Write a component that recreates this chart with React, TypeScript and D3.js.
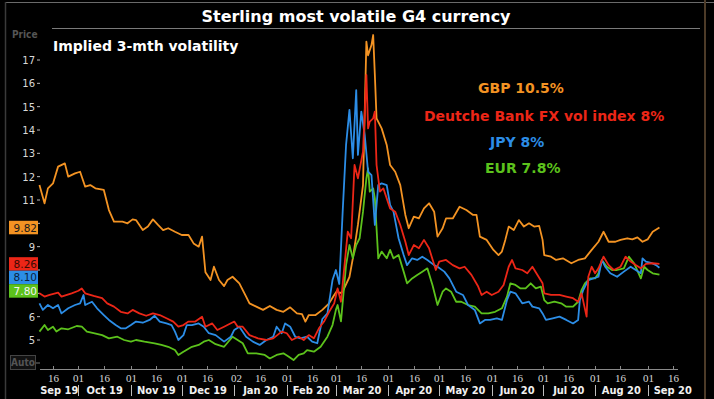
import React, { useEffect, useRef } from 'react';
import * as d3 from 'd3';

// Implied 3-month volatility
const gbp: [string, number][] = [
  ["2019-09-08", 11.64], ["2019-09-11", 10.86], ["2019-09-13", 11.5], ["2019-09-16", 11.71], ["2019-09-19", 12.43],
  ["2019-09-23", 12.57], ["2019-09-25", 12.0], ["2019-09-29", 12.14], ["2019-10-02", 12.21], ["2019-10-05", 11.57],
  ["2019-10-08", 11.64], ["2019-10-11", 11.5], ["2019-10-16", 11.43], ["2019-10-19", 10.57], ["2019-10-22", 10.07],
  ["2019-10-27", 10.07], ["2019-10-30", 10.0], ["2019-11-02", 10.17], ["2019-11-04", 10.14], ["2019-11-08", 9.71],
  ["2019-11-11", 9.86], ["2019-11-14", 10.17], ["2019-11-17", 9.93], ["2019-11-20", 9.71], ["2019-11-23", 9.79],
  ["2019-11-27", 9.64], ["2019-12-01", 9.5], ["2019-12-05", 9.5], ["2019-12-08", 9.14], ["2019-12-11", 9.0],
  ["2019-12-13", 9.43], ["2019-12-15", 7.9], ["2019-12-18", 7.57], ["2019-12-20", 8.14], ["2019-12-23", 7.57],
  ["2019-12-26", 7.31], ["2019-12-28", 7.57], ["2019-12-31", 7.71], ["2020-01-04", 7.43], ["2020-01-08", 6.86],
  ["2020-01-10", 6.57], ["2020-01-14", 6.43], ["2020-01-18", 6.29], ["2020-01-22", 6.46], ["2020-01-26", 6.29],
  ["2020-01-30", 6.21], ["2020-02-03", 6.4], ["2020-02-07", 6.14], ["2020-02-10", 6.11], ["2020-02-12", 5.79],
  ["2020-02-14", 6.07], ["2020-02-18", 6.07], ["2020-02-22", 6.29], ["2020-02-26", 6.57], ["2020-02-29", 6.93],
  ["2020-03-02", 7.14], ["2020-03-03", 7.0], ["2020-03-05", 7.07], ["2020-03-09", 7.7], ["2020-03-11", 8.5],
  ["2020-03-14", 9.93], ["2020-03-17", 11.64], ["2020-03-19", 17.79], ["2020-03-20", 17.2], ["2020-03-22", 17.64],
  ["2020-03-23", 18.07], ["2020-03-24", 16.36], ["2020-03-25", 14.5], ["2020-03-28", 14.07], ["2020-03-31", 13.36],
  ["2020-04-02", 12.5], ["2020-04-05", 12.21], ["2020-04-08", 11.64], ["2020-04-11", 10.36], ["2020-04-13", 9.79],
  ["2020-04-16", 10.29], ["2020-04-19", 10.21], ["2020-04-22", 10.64], ["2020-04-25", 10.86], ["2020-04-28", 10.5],
  ["2020-04-30", 9.43], ["2020-05-03", 9.79], ["2020-05-05", 10.21], ["2020-05-09", 10.21], ["2020-05-13", 10.71],
  ["2020-05-17", 10.57], ["2020-05-21", 10.36], ["2020-05-23", 10.36], ["2020-05-25", 9.43], ["2020-05-29", 9.29],
  ["2020-06-02", 8.86], ["2020-06-05", 8.64], ["2020-06-07", 8.79], ["2020-06-09", 9.29], ["2020-06-11", 9.86],
  ["2020-06-14", 9.71], ["2020-06-17", 10.14], ["2020-06-20", 9.86], ["2020-06-23", 10.0], ["2020-06-26", 9.86],
  ["2020-06-29", 9.89], ["2020-07-01", 9.29], ["2020-07-02", 8.64], ["2020-07-06", 8.57], ["2020-07-09", 8.43],
  ["2020-07-13", 8.5], ["2020-07-18", 8.29], ["2020-07-22", 8.43], ["2020-07-26", 8.5], ["2020-07-30", 8.86],
  ["2020-08-03", 9.21], ["2020-08-06", 9.64], ["2020-08-09", 9.21], ["2020-08-13", 9.21], ["2020-08-16", 9.29],
  ["2020-08-20", 9.36], ["2020-08-23", 9.31], ["2020-08-26", 9.4], ["2020-08-29", 9.21], ["2020-09-01", 9.31],
  ["2020-09-04", 9.64], ["2020-09-08", 9.82],
];

const dbVol: [string, number][] = [
  ["2019-09-08", 7.0], ["2019-09-11", 6.86], ["2019-09-14", 6.93], ["2019-09-19", 7.03], ["2019-09-21", 6.86],
  ["2019-09-27", 7.0], ["2019-10-01", 7.11], ["2019-10-03", 7.21], ["2019-10-05", 7.0], ["2019-10-10", 6.89],
  ["2019-10-15", 6.79], ["2019-10-18", 6.57], ["2019-10-22", 6.43], ["2019-10-26", 6.21], ["2019-10-30", 6.14],
  ["2019-11-02", 6.29], ["2019-11-06", 6.14], ["2019-11-10", 6.04], ["2019-11-14", 6.14], ["2019-11-18", 6.07],
  ["2019-11-22", 5.93], ["2019-11-26", 5.79], ["2019-11-29", 5.57], ["2019-12-02", 5.64], ["2019-12-05", 5.79],
  ["2019-12-09", 5.79], ["2019-12-13", 6.0], ["2019-12-15", 5.57], ["2019-12-19", 5.71], ["2019-12-22", 5.43],
  ["2019-12-26", 5.57], ["2020-01-01", 5.79], ["2020-01-03", 5.57], ["2020-01-06", 5.57], ["2020-01-10", 5.21],
  ["2020-01-15", 5.07], ["2020-01-20", 5.0], ["2020-01-24", 5.07], ["2020-01-29", 5.36], ["2020-02-01", 5.29],
  ["2020-02-04", 5.0], ["2020-02-08", 5.14], ["2020-02-11", 5.0], ["2020-02-14", 5.21], ["2020-02-17", 5.07],
  ["2020-02-20", 5.5], ["2020-02-23", 5.79], ["2020-02-26", 6.21], ["2020-02-29", 6.57], ["2020-03-02", 7.21],
  ["2020-03-04", 6.64], ["2020-03-08", 9.64], ["2020-03-10", 9.36], ["2020-03-12", 12.5], ["2020-03-14", 11.93],
  ["2020-03-17", 13.07], ["2020-03-19", 16.36], ["2020-03-20", 14.07], ["2020-03-21", 14.36], ["2020-03-23", 14.5],
  ["2020-03-24", 14.79], ["2020-03-25", 12.5], ["2020-03-27", 11.36], ["2020-03-29", 11.5], ["2020-03-31", 11.07],
  ["2020-04-02", 10.64], ["2020-04-05", 10.5], ["2020-04-08", 9.93], ["2020-04-11", 9.21], ["2020-04-13", 8.64],
  ["2020-04-16", 9.07], ["2020-04-19", 8.93], ["2020-04-22", 9.29], ["2020-04-25", 8.93], ["2020-04-29", 8.0],
  ["2020-05-01", 8.36], ["2020-05-05", 8.43], ["2020-05-09", 8.21], ["2020-05-13", 8.07], ["2020-05-16", 8.14],
  ["2020-05-20", 7.79], ["2020-05-24", 7.29], ["2020-05-26", 6.93], ["2020-05-29", 7.07], ["2020-06-01", 6.93],
  ["2020-06-05", 7.07], ["2020-06-08", 7.36], ["2020-06-11", 8.14], ["2020-06-13", 8.43], ["2020-06-15", 8.07],
  ["2020-06-19", 8.0], ["2020-06-22", 7.86], ["2020-06-25", 8.14], ["2020-06-28", 7.79], ["2020-07-01", 7.43],
  ["2020-07-02", 7.0], ["2020-07-06", 6.93], ["2020-07-11", 6.93], ["2020-07-15", 6.86], ["2020-07-19", 6.79],
  ["2020-07-22", 6.64], ["2020-07-24", 7.0], ["2020-07-27", 6.0], ["2020-07-28", 7.71], ["2020-07-30", 8.14],
  ["2020-08-01", 7.86], ["2020-08-03", 8.07], ["2020-08-06", 8.57], ["2020-08-09", 8.21], ["2020-08-12", 8.0],
  ["2020-08-16", 8.14], ["2020-08-19", 8.57], ["2020-08-22", 8.36], ["2020-08-25", 8.21], ["2020-08-28", 8.07],
  ["2020-08-31", 8.26], ["2020-09-04", 8.29], ["2020-09-08", 8.26],
];

const jpy: [string, number][] = [
  ["2019-09-08", 6.57], ["2019-09-10", 6.29], ["2019-09-13", 6.5], ["2019-09-16", 6.36], ["2019-09-19", 6.5],
  ["2019-09-21", 6.14], ["2019-09-25", 6.36], ["2019-09-29", 6.5], ["2019-10-02", 6.57], ["2019-10-04", 6.93],
  ["2019-10-05", 6.5], ["2019-10-09", 6.64], ["2019-10-12", 6.36], ["2019-10-16", 6.07], ["2019-10-19", 5.86],
  ["2019-10-23", 5.64], ["2019-10-26", 5.5], ["2019-10-29", 5.5], ["2019-11-01", 5.64], ["2019-11-04", 5.79],
  ["2019-11-08", 5.74], ["2019-11-12", 5.86], ["2019-11-15", 6.04], ["2019-11-18", 5.79], ["2019-11-22", 5.71],
  ["2019-11-25", 5.64], ["2019-11-27", 5.36], ["2019-11-29", 5.0], ["2019-12-02", 5.21], ["2019-12-04", 5.64],
  ["2019-12-07", 5.64], ["2019-12-11", 5.71], ["2019-12-14", 5.57], ["2019-12-17", 5.29], ["2019-12-21", 5.21],
  ["2019-12-26", 4.93], ["2019-12-30", 5.14], ["2020-01-01", 5.43], ["2020-01-04", 5.57], ["2020-01-08", 5.14],
  ["2020-01-12", 4.93], ["2020-01-16", 4.79], ["2020-01-20", 5.0], ["2020-01-24", 5.14], ["2020-01-26", 5.57],
  ["2020-01-29", 5.29], ["2020-01-31", 5.71], ["2020-02-03", 5.57], ["2020-02-06", 5.14], ["2020-02-09", 5.07],
  ["2020-02-13", 5.14], ["2020-02-16", 4.93], ["2020-02-19", 4.86], ["2020-02-22", 5.9], ["2020-02-25", 6.14],
  ["2020-02-28", 7.57], ["2020-03-01", 8.0], ["2020-03-03", 7.4], ["2020-03-05", 10.5], ["2020-03-07", 13.36],
  ["2020-03-09", 14.86], ["2020-03-11", 12.79], ["2020-03-13", 15.71], ["2020-03-14", 12.93], ["2020-03-16", 14.79],
  ["2020-03-18", 13.79], ["2020-03-20", 12.21], ["2020-03-22", 12.07], ["2020-03-24", 9.93], ["2020-03-26", 11.64],
  ["2020-03-28", 11.71], ["2020-03-31", 11.64], ["2020-04-02", 10.79], ["2020-04-04", 10.5], ["2020-04-07", 9.36],
  ["2020-04-10", 8.64], ["2020-04-12", 8.21], ["2020-04-15", 8.5], ["2020-04-18", 8.43], ["2020-04-21", 8.57],
  ["2020-04-24", 8.43], ["2020-04-28", 8.21], ["2020-04-30", 8.14], ["2020-05-04", 7.93], ["2020-05-07", 7.64],
  ["2020-05-11", 7.07], ["2020-05-15", 6.93], ["2020-05-18", 6.5], ["2020-05-22", 6.29], ["2020-05-25", 5.71],
  ["2020-05-28", 5.86], ["2020-05-31", 5.86], ["2020-06-04", 5.93], ["2020-06-07", 5.86], ["2020-06-10", 6.71],
  ["2020-06-12", 7.07], ["2020-06-15", 7.0], ["2020-06-17", 6.79], ["2020-06-19", 6.57], ["2020-06-23", 6.64],
  ["2020-06-25", 6.43], ["2020-06-29", 6.36], ["2020-07-01", 6.14], ["2020-07-03", 5.86], ["2020-07-07", 5.93],
  ["2020-07-11", 6.0], ["2020-07-15", 5.86], ["2020-07-19", 5.71], ["2020-07-22", 5.86], ["2020-07-23", 6.71],
  ["2020-07-25", 7.14], ["2020-07-28", 7.57], ["2020-07-31", 7.64], ["2020-08-03", 7.71], ["2020-08-05", 8.43],
  ["2020-08-07", 8.14], ["2020-08-10", 7.86], ["2020-08-14", 7.71], ["2020-08-18", 7.93], ["2020-08-22", 8.14],
  ["2020-08-25", 8.0], ["2020-08-28", 7.86], ["2020-08-29", 8.5], ["2020-08-31", 8.36], ["2020-09-03", 8.31],
  ["2020-09-06", 8.21], ["2020-09-08", 8.1],
];

const eur: [string, number][] = [
  ["2019-09-08", 5.36], ["2019-09-11", 5.64], ["2019-09-13", 5.43], ["2019-09-16", 5.57], ["2019-09-18", 5.36],
  ["2019-09-21", 5.5], ["2019-09-25", 5.46], ["2019-09-30", 5.6], ["2019-10-03", 5.57], ["2019-10-06", 5.36],
  ["2019-10-10", 5.29], ["2019-10-15", 5.21], ["2019-10-19", 5.07], ["2019-10-24", 5.14], ["2019-10-28", 5.0],
  ["2019-11-01", 4.93], ["2019-11-04", 5.0], ["2019-11-09", 4.93], ["2019-11-15", 4.86], ["2019-11-19", 4.79],
  ["2019-11-23", 4.71], ["2019-11-27", 4.57], ["2019-11-29", 4.36], ["2019-12-02", 4.5], ["2019-12-07", 4.71],
  ["2019-12-11", 4.79], ["2019-12-14", 4.93], ["2019-12-17", 5.0], ["2019-12-21", 4.82], ["2019-12-26", 4.71],
  ["2019-12-31", 5.14], ["2020-01-03", 5.0], ["2020-01-06", 4.86], ["2020-01-09", 4.43], ["2020-01-14", 4.43],
  ["2020-01-19", 4.36], ["2020-01-22", 4.21], ["2020-01-26", 4.36], ["2020-01-30", 4.43], ["2020-02-02", 4.29],
  ["2020-02-05", 4.14], ["2020-02-08", 4.36], ["2020-02-11", 4.43], ["2020-02-13", 4.57], ["2020-02-17", 4.5],
  ["2020-02-21", 4.71], ["2020-02-25", 5.14], ["2020-02-28", 5.64], ["2020-03-01", 6.29], ["2020-03-02", 6.5],
  ["2020-03-04", 5.8], ["2020-03-07", 8.21], ["2020-03-09", 9.07], ["2020-03-11", 8.5], ["2020-03-13", 9.07],
  ["2020-03-15", 9.36], ["2020-03-17", 10.5], ["2020-03-19", 11.93], ["2020-03-20", 12.36], ["2020-03-21", 11.36],
  ["2020-03-23", 11.5], ["2020-03-24", 11.07], ["2020-03-26", 8.5], ["2020-03-28", 8.79], ["2020-03-31", 8.5],
  ["2020-04-02", 8.86], ["2020-04-04", 8.5], ["2020-04-07", 8.64], ["2020-04-10", 7.93], ["2020-04-12", 7.43],
  ["2020-04-15", 7.64], ["2020-04-18", 7.79], ["2020-04-21", 7.93], ["2020-04-24", 8.07], ["2020-04-27", 7.36],
  ["2020-04-30", 6.5], ["2020-05-03", 7.07], ["2020-05-05", 7.21], ["2020-05-08", 7.07], ["2020-05-11", 6.64],
  ["2020-05-14", 6.64], ["2020-05-18", 6.5], ["2020-05-22", 6.43], ["2020-05-26", 6.14], ["2020-05-30", 6.14],
  ["2020-06-03", 6.21], ["2020-06-07", 6.36], ["2020-06-10", 6.86], ["2020-06-12", 7.43], ["2020-06-15", 7.36],
  ["2020-06-18", 7.21], ["2020-06-21", 7.21], ["2020-06-24", 7.43], ["2020-06-27", 7.21], ["2020-06-30", 7.29],
  ["2020-07-02", 6.71], ["2020-07-04", 6.57], ["2020-07-08", 6.64], ["2020-07-12", 6.57], ["2020-07-15", 6.43],
  ["2020-07-19", 6.43], ["2020-07-22", 6.64], ["2020-07-24", 7.14], ["2020-07-26", 7.43], ["2020-07-29", 7.64],
  ["2020-08-01", 7.64], ["2020-08-03", 7.86], ["2020-08-05", 8.43], ["2020-08-08", 8.14], ["2020-08-11", 8.0],
  ["2020-08-14", 8.0], ["2020-08-18", 8.07], ["2020-08-21", 8.57], ["2020-08-24", 8.29], ["2020-08-28", 7.64],
  ["2020-08-30", 8.14], ["2020-09-01", 8.0], ["2020-09-04", 7.86], ["2020-09-08", 7.8],
];

const seriesNames = ["GBP 10.5%", "Deutche Bank FX vol index 8%", "JPY 8%", "EUR 7.8%"];
const seriesColors = ["#f39323", "#ec2617", "#2c8de6", "#5cc21c"];

const yTicks = [5, 6, 7, 8, 9, 10, 11, 12, 13, 14, 15, 16, 17];
const xTickDates = [
  "2019-09-16", "2019-10-01", "2019-10-16", "2019-11-01", "2019-11-16", "2019-12-01", "2019-12-16",
  "2020-01-02", "2020-01-16", "2020-02-01", "2020-02-16", "2020-03-01", "2020-03-16", "2020-04-01",
  "2020-04-16", "2020-05-01", "2020-05-16", "2020-06-01", "2020-06-16", "2020-07-01", "2020-07-16",
  "2020-08-01", "2020-08-16", "2020-09-01", "2020-09-16",
];
const monthStarts = [
  "2019-09-01", "2019-10-01", "2019-11-01", "2019-12-01", "2020-01-01", "2020-02-01", "2020-03-01",
  "2020-04-01", "2020-05-01", "2020-06-01", "2020-07-01", "2020-08-01", "2020-09-01", "2020-10-01",
];

const W = 714;
const H = 399;
const FONT = "'DejaVu Sans', sans-serif";
const NARROW = "'DejaVu Sans Condensed', 'DejaVu Sans', sans-serif";

const App: React.FC = () => {
  const svgRef = useRef<SVGSVGElement>(null);

  useEffect(() => {
    if (!svgRef.current) return;
    const svg = d3.select(svgRef.current);
    svg.selectAll("*").remove();

    const parse = d3.timeParse("%Y-%m-%d");
    const x = d3.scaleTime()
      .domain([parse("2019-09-16")!, parse("2020-09-16")!])
      .range([53, 673]);
    const y = d3.scaleLinear().domain([5, 17]).range([340, 60]);
    const plotLeft = 40;
    const plotRight = 678;
    const axisY = 369;

    svg.append("rect").attr("width", W).attr("height", H).attr("fill", "#000");

    // frame
    svg.append("line").attr("x1", 5).attr("x2", W).attr("y1", 2.5).attr("y2", 2.5)
      .attr("stroke", "#6a6a6a").attr("stroke-width", 1);
    svg.append("line").attr("x1", 5.5).attr("x2", 5.5).attr("y1", 2).attr("y2", H)
      .attr("stroke", "#3a3a3a").attr("stroke-width", 1.5);
    svg.append("line").attr("x1", 705).attr("x2", 705).attr("y1", 0).attr("y2", H)
      .attr("stroke", "#4d3b28").attr("stroke-width", 2);

    // title
    svg.append("text")
      .attr("x", 356).attr("y", 22)
      .attr("text-anchor", "middle")
      .style("font-family", FONT).style("font-weight", "bold").style("font-size", "16px")
      .style("fill", "#fff")
      .text("Sterling most volatile G4 currency");
    svg.append("line").attr("x1", 52).attr("x2", 700).attr("y1", 28.5).attr("y2", 28.5)
      .attr("stroke", "#7a7a7a").attr("stroke-width", 1);

    svg.append("text")
      .attr("x", 53).attr("y", 51)
      .style("font-family", FONT).style("font-weight", "bold").style("font-size", "14px")
      .style("fill", "#fff")
      .text("Implied 3-mth volatility");

    svg.append("text")
      .attr("x", 12).attr("y", 38)
      .style("font-family", NARROW).style("font-weight", "bold").style("font-size", "10px")
      .style("fill", "#555")
      .text("Price");

    // last value tags, stacked so they do not overlap
    const allSeries = [gbp, dbVol, jpy, eur];
    const tagH = 13.5;
    const tags = allSeries.map((s, i) => ({ v: s[s.length - 1][1], i, y: y(s[s.length - 1][1]) }))
      .sort((a, b) => a.y - b.y);
    for (let k = 1; k < tags.length; k++) {
      if (tags[k].y - tags[k - 1].y < tagH) tags[k].y = tags[k - 1].y + tagH;
    }
    const coveredByTag = (py: number) => tags.some(t => Math.abs(t.y - py) < tagH / 2 + 3);

    // y axis labels (those hidden behind the value tags are left out)
    const yAxis = svg.append("g");
    yTicks.forEach(t => {
      yAxis.append("line").attr("x1", 37).attr("x2", 40).attr("y1", y(t)).attr("y2", y(t))
        .attr("stroke", "#bbb");
      if (coveredByTag(y(t))) return;
      yAxis.append("text")
        .attr("x", 35).attr("y", y(t) + 4)
        .attr("text-anchor", "end")
        .style("font-family", FONT).style("font-size", "10px")
        .style("fill", "#d8d8d8")
        .text(t);
    });

    // Auto button
    svg.append("rect").attr("x", 10.5).attr("y", 355.5).attr("width", 25).attr("height", 14)
      .attr("fill", "#111").attr("stroke", "#444");
    svg.append("text").attr("x", 23).attr("y", 366).attr("text-anchor", "middle")
      .style("font-family", NARROW).style("font-weight", "bold").style("font-size", "10px")
      .style("fill", "#555").text("Auto");
    svg.append("line").attr("x1", 36).attr("x2", 40).attr("y1", 363).attr("y2", 363).attr("stroke", "#777");

    // x axis
    svg.append("line").attr("x1", plotLeft).attr("x2", plotRight).attr("y1", axisY + 0.5).attr("y2", axisY + 0.5)
      .attr("stroke", "#8a8a8a");
    xTickDates.forEach(s => {
      const d = parse(s)!;
      const px = Math.round(x(d)) + 0.5;
      svg.append("line").attr("x1", px).attr("x2", px).attr("y1", axisY - 3).attr("y2", axisY)
        .attr("stroke", "#8a8a8a");
      svg.append("text")
        .attr("x", px).attr("y", 382)
        .attr("text-anchor", "middle")
        .style("font-family", "'Liberation Serif', serif").style("font-size", "11px")
        .style("fill", "#d8d8d8")
        .text(d3.timeFormat("%d")(d));
    });
    const monthFmt = d3.timeFormat("%b %y");
    for (let i = 0; i < monthStarts.length - 1; i++) {
      const a = parse(monthStarts[i])!;
      const b = parse(monthStarts[i + 1])!;
      const xa = Math.max(x(a), 40);
      const xb = Math.min(x(b), 698);
      svg.append("text")
        .attr("x", (xa + xb) / 2).attr("y", 394)
        .attr("text-anchor", "middle")
        .style("font-family", NARROW).style("font-weight", "bold").style("font-size", "11px")
        .style("fill", "#f0f0f0")
        .text(monthFmt(a));
      if (i > 0) {
        const sx = Math.round(x(a)) + 0.5;
        svg.append("line").attr("x1", sx).attr("x2", sx).attr("y1", 385).attr("y2", 396)
          .attr("stroke", "#bdbdbd");
      }
    }

    // lines
    const line = d3.line<[string, number]>()
      .x(d => x(parse(d[0])!))
      .y(d => y(d[1]));
    const drawOrder = [0, 3, 2, 1];
    drawOrder.forEach(i => {
      svg.append("path")
        .attr("d", line(allSeries[i]))
        .attr("fill", "none")
        .attr("stroke", seriesColors[i])
        .attr("stroke-width", 1.8)
        .attr("stroke-linejoin", "round");
    });

    // legend
    const legendX = [478, 424, 490, 485];
    const legendY = [93, 121, 147, 173];
    seriesNames.forEach((n, i) => {
      svg.append("text")
        .attr("x", legendX[i]).attr("y", legendY[i])
        .style("font-family", FONT).style("font-weight", "bold").style("font-size", "14px")
        .style("fill", seriesColors[i])
        .text(n);
    });

    const tagText = ["#1a1a1a", "#3a0a05", "#0a1f40", "#f4f4f4"];
    tags.forEach(t => {
      svg.append("rect")
        .attr("x", 9).attr("y", t.y - tagH / 2).attr("width", 29).attr("height", tagH)
        .attr("fill", seriesColors[t.i]);
      svg.append("text")
        .attr("x", 37).attr("y", t.y + 4)
        .attr("text-anchor", "end")
        .style("font-family", FONT).style("font-size", "10.5px")
        .style("fill", tagText[t.i])
        .text(t.v.toFixed(2));
    });
  }, []);

  return (
    <svg ref={svgRef} width={W} height={H}
      style={{ position: 'fixed', left: 0, top: 0, display: 'block' }} />
  );
};

export default App;
